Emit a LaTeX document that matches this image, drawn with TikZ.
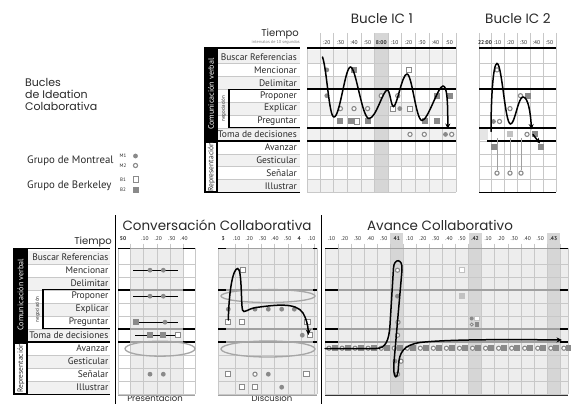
\documentclass[tikz,border=0pt]{standalone}
\usepackage{fontspec}
\setmainfont{PT Sans}
\newfontfamily\titlefont{Poppins}
\usetikzlibrary{arrows.meta}
\definecolor{mk}{HTML}{8A8A8A}
\definecolor{mkl}{HTML}{C2C2C2}
\definecolor{rowgray}{HTML}{F1F1F1}
\definecolor{gridc}{HTML}{C8C8C8}
\definecolor{hicol}{HTML}{D6D6D6}
\definecolor{selbg}{HTML}{EDEDED}
\definecolor{thkgray}{HTML}{A0A0A0}
\definecolor{txt}{HTML}{2A2A2A}
\definecolor{ellc}{HTML}{A6A6A6}
\newcommand\MkCirc[2]{\fill[mk] (#1,#2) circle (2.4pt);}
\newcommand\MkRing[2]{\draw[mk,line width=1.1pt,fill=white] (#1,#2) circle (2.1pt);}
\newcommand\MkOpSq[2]{\draw[mk,line width=0.9pt,fill=white,shift={(#1,#2)}] (-2.6,-2.6) rectangle (2.6,2.6);}
\newcommand\MkSq[2]{\fill[mk,shift={(#1,#2)}] (-3,-3) rectangle (3,3);}
\newcommand\MkSqL[2]{\fill[mkl,shift={(#1,#2)}] (-3,-3) rectangle (3,3);}
\newcommand\MkOpSqL[2]{\draw[mkl,line width=0.9pt,fill=white,shift={(#1,#2)}] (-2.6,-2.6) rectangle (2.6,2.6);}
\begin{document}
\begin{tikzpicture}[x=1pt,y=-1pt,
  lbl/.style={anchor=east,inner sep=0pt,font=\fontsize{9.5}{10}\selectfont,text=txt},
  tick/.style={inner sep=0pt,font=\fontsize{5.5}{5.5}\selectfont,text=txt},
  ttl/.style={inner sep=0pt,font=\titlefont\fontsize{13.5}{14}\selectfont,text=txt},
  thk/.style={line width=1.6pt},
  gridl/.style={draw=gridc,line width=0.4pt},
  curve/.style={line width=1.5pt,line cap=round,-{Stealth[length=5.5pt,width=5pt]}},
  ell/.style={draw=ellc,line width=1.3pt},
  rotw/.style={rotate=90,inner sep=0pt,text=white,font=\fontsize{8}{8}\selectfont},
  rotb/.style={rotate=90,inner sep=0pt,text=txt,font=\fontsize{7.5}{8}\selectfont},
  negs/.style={rotate=90,inner sep=0pt,text=txt,font=\fontsize{5}{5}\selectfont},
  leg/.style={anchor=base west,inner sep=0pt,font=\fontsize{10.8}{11}\selectfont,text=txt},
  legs/.style={inner sep=0pt,font=\fontsize{5}{5}\selectfont,text=txt},
]
\useasboundingbox (0,0) rectangle (571,404);
\fill[white] (0,0) rectangle (571,404);

% ================= LEGEND =================
\node[anchor=base west,inner sep=0,font=\titlefont\fontsize{11}{12}\selectfont,text=txt] (leg1) at (25,86.7) {Bucles};
\node[anchor=base west,inner sep=0,font=\titlefont\fontsize{11}{12}\selectfont,text=txt] (leg2) at (25,98.7) {de Ideation};
\node[anchor=base west,inner sep=0,font=\titlefont\fontsize{11}{12}\selectfont,text=txt] (leg3) at (25,110.7) {Colaborativa};
\node[leg] (mont) at (27,163) {Grupo de Montreal};
\node[leg] (berk) at (27,188.3) {Grupo de Berkeley};
\node[legs] (m1) at (123,156) {M1};
\node[legs] (m2) at (123,165.5) {M2};
\node[legs] (b1) at (123,180) {B1};
\node[legs] (b2) at (123,190) {B2};
\MkCirc{135.5}{156}
\MkRing{135.5}{165.5}
\MkOpSq{136}{179.5}
\MkSq{136}{189.5}

% ================= TOP: titles =================
\node[ttl] (ic1t) at (382,19) {Bucle IC 1};
\node[ttl] (ic2t) at (518,19) {Bucle IC 2};
\node[anchor=base east,inner sep=0,font=\titlefont\fontsize{10}{10}\selectfont,text=txt] (tiempo1) at (299,37) {Tiempo};
\node[anchor=east,inner sep=0,font=\fontsize{4.3}{4.3}\selectfont,text=gray] (interv) at (300,42) {intervalos de 10 segundos};

% ================= TOP label column =================
\foreach \i in {0,2,4,6,8,10} \fill[rowgray] (218,{50.5+12.9*\i}) rectangle (300,{63.4+12.9*\i});
\foreach \i in {1,...,10} \draw[gridl] (218,{50.5+12.9*\i}) -- (300,{50.5+12.9*\i});
\foreach \t [count=\i from 0] in {Buscar Referencias,Mencionar,Delimitar,Proponer,Explicar,Preguntar,Toma de decisiones,Avanzar,Gesticular,Señalar,Illustrar}
  \node[lbl] (tl\i) at (297,{56.95+12.9*\i}) {\t};
\fill[black] (204,47.5) rectangle (218,140.8);
\node[rotw] (cv1) at (211,94.2) {Comunicación verbal};
\fill[black] (204,140.8) rectangle (218,193.2);
\fill[white] (206.2,142.6) rectangle (216.2,191.4);
\node[rotb] (rep1) at (211.4,167) {Representación};
\draw[thk] (204,48) -- (300,48);
\draw[line width=1.2pt] (300,89.2) -- (229,89.2) -- (229,127.9) -- (300,127.9);
\node[negs] (neg1) at (223.5,108.6) {negociación};
\draw[thk] (218,140.8) -- (300,140.8);
\draw[line width=1.2pt] (204,192.8) -- (300,192.8);

% ================= IC1 chart =================
\foreach \i in {0,2,4,6,8,10} \fill[rowgray] (307,{50.5+12.9*\i}) rectangle (456,{63.4+12.9*\i});
\fill[hicol] (374.4,33) rectangle (388,192.4);
\foreach \i in {1,...,11} \draw[gridl] (307,{50.5+12.9*\i}) -- (456,{50.5+12.9*\i});
\foreach \j in {0,...,9} \draw[gridl] ({320+13.6*\j},33) -- ({320+13.6*\j},192.4);
\draw[gridl] (307,48) -- (307,192.4);
\draw[gridl] (456,33) -- (456,192.4);
\foreach \yy in {48,89.2,127.9,140.8} \draw[thk] (307,\yy) -- (456,\yy);
\foreach \t [count=\k from 0] in {:20,:30,:40,:50,\textbf{8:00},:10,:20,:30,:40,:50}
  \node[tick] (ta\k) at ({326.8+13.6*\k},42.5) {\t};
% IC1 markers
\MkCirc{326.8}{69.9} \MkSq{353.5}{69.9} \MkOpSq{409}{69.9}
\MkCirc{326.8}{95.7} \MkRing{381.2}{95.7} \MkRing{397.7}{95.7} \MkSq{436.7}{95.7} \MkSq{450}{95.7}
\MkRing{340.4}{108.6} \MkRing{354}{108.6} \MkRing{367.6}{108.6} \MkOpSq{393.3}{108.6} \MkCirc{399.8}{108.6} \MkOpSq{410}{108.6}
\MkSq{340.4}{121.5} \MkSq{350.7}{121.5} \MkOpSq{357.3}{121.5} \MkSq{368}{121.5} \MkSq{424.5}{121.5} \MkSq{436.7}{121.5}
\MkRing{410}{134.4} \MkRing{424.3}{134.4} \MkCirc{445.5}{134.4} \MkRing{451.7}{134.4}
\draw[curve] (322.5,57) .. controls (327,70) and (329,117) .. (334,117)
  .. controls (340,117) and (345,67) .. (350.5,67)
  .. controls (356,67) and (362,118.5) .. (369,118.5)
  .. controls (376,118.5) and (383,90) .. (387.3,90)
  .. controls (390,90) and (391,106.5) .. (393.5,106.5)
  .. controls (397,106.5) and (402,74) .. (407,74)
  .. controls (412,74) and (416,120.5) .. (422,120.5)
  .. controls (428,120.5) and (438,86) .. (443,86)
  .. controls (447,86) and (447.8,100) .. (447.8,129);

% ================= IC2 chart =================
\fill[black!10] (479,128.4) rectangle (488,140.3);
\foreach \i in {1,...,11} \draw[gridl] (479,{50.5+12.9*\i}) -- (556,{50.5+12.9*\i});
\foreach \xx in {479,491,504,517,530,543,556} \draw[gridl] (\xx,33) -- (\xx,192.4);
\foreach \yy in {48,89.2,127.9} \draw[thk] (479,\yy) -- (556,\yy);
\draw[thk] (487,140.8) -- (556,140.8);
\draw[thk] (479,192.4) -- (556,192.4);
\foreach \t/\xx [count=\k] in {\textbf{22:00}/485,:10/497.5,:20/510.5,:30/523.5,:40/536.5,:50/549.5}
  \node[tick] (tb\k) at (\xx,42.5) {\t};
\foreach \xx in {497,510,521} \draw[draw=gridc!80!black,line width=0.5pt] (\xx,138) -- (\xx,170);
\MkRing{497}{69.9}
\MkRing{510}{108.6}
\MkRing{520.5}{95.7} \MkSq{527.5}{95.7}
\MkCirc{493.5}{121.5} \MkRing{499.5}{121.5}
\MkSqL{510}{134.4} \MkRing{527}{134.4} \MkSq{535}{134.4}
\MkSq{493.5}{147.3} \MkSq{540.5}{147.3}
\MkRing{497}{173.1} \MkRing{510}{173.1} \MkRing{521}{173.1}
\draw[curve] (491,131.5) .. controls (491,100) and (493,63.5) .. (497,63.5)
  .. controls (502,63.5) and (505,124) .. (510.5,124)
  .. controls (515,124) and (518,97) .. (523,97)
  .. controls (528,97) and (530.5,112) .. (531.5,129.5);
\draw[curve] (533,134.5) -- (540,143.5);

% ================= BOTTOM: titles, dividers =================
\draw[line width=0.7pt] (115,215) -- (115,404);
\draw[line width=0.7pt] (321.7,215) -- (321.7,404);
\node[ttl] (cct) at (217,225) {Conversación Collaborativa};
\node[ttl] (act) at (440,225) {Avance Collaborativo};
\node[anchor=base east,inner sep=0,font=\titlefont\fontsize{10}{10}\selectfont,text=txt] (tiempo2) at (112,244) {Tiempo};
\node[anchor=base,inner sep=0,font=\titlefont\fontsize{8.5}{8.5}\selectfont,text=txt] (pres) at (155,401.3) {Presentación};
\node[anchor=base,inner sep=0,font=\titlefont\fontsize{8.5}{8.5}\selectfont,text=txt] (disc) at (272,401.3) {Discusión};

% ================= BOTTOM label column =================
\foreach \i in {0,2,4,6,8,10} \fill[rowgray] (28,{250.7+13*\i}) rectangle (110,{263.7+13*\i});
\foreach \i in {1,...,10} \draw[gridl] (28,{250.7+13*\i}) -- (110,{250.7+13*\i});
\foreach \t [count=\i from 0] in {Buscar Referencias,Mencionar,Delimitar,Proponer,Explicar,Preguntar,Toma de decisiones,Avanzar,Gesticular,Señalar,Illustrar}
  \node[lbl] (bl\i) at (108.5,{257.2+13*\i}) {\t};
\fill[black] (13,248) rectangle (28,341.7);
\node[rotw] (cv2) at (20.5,294.8) {Comunicación verbal};
\fill[black] (13,341.7) rectangle (28,394.6);
\fill[white] (15.2,343.5) rectangle (26.2,392.8);
\node[rotb] (rep2) at (20.9,368.2) {Representación};
\draw[thk] (13,248.3) -- (110,248.3);
\draw[line width=1.2pt] (110,289.7) -- (43,289.7) -- (43,328.7) -- (110,328.7);
\node[negs] (neg2) at (37.5,309.2) {negociación};
\draw[thk] (28,341.7) -- (110,341.7);
\draw[line width=1.2pt] (13,394.2) -- (110,394.2);

% ================= Chart 1 (Presentacion) =================
\fill[selbg] (130,248.3) rectangle (183.3,393.7);
\foreach \i in {1,...,11} \draw[gridl] (118,{250.7+13*\i}) -- (195,{250.7+13*\i});
\foreach \xx in {130,143.3,156.7,170,183.3} \draw[gridl] (\xx,243.5) -- (\xx,393.7);
\draw[gridl] (118,248) -- (118,393.7);
\draw[gridl] (195,248) -- (195,393.7);
\foreach \yy in {248.3,289.7,328.7,341.7} {
  \draw[thk,thkgray] (118,\yy) -- (195,\yy);
  \draw[thk] (118,\yy) -- (130,\yy);
  \draw[thk] (183.3,\yy) -- (195,\yy);}
\draw[line width=1pt,thkgray] (118,395.2) -- (195,395.2);
\foreach \t/\xx [count=\k] in {\textbf{50}/123,.10/145,.20/158.3,.30/171.7,.40/184}
  \node[tick] (tc\k) at (\xx,239) {\t};
\draw[line width=1.2pt] (133.3,270.2) -- (178.3,270.2);
\MkCirc{150}{270.2} \MkCirc{163.3}{270.2}
\draw[line width=1.2pt] (133.3,296.2) -- (178.3,296.2);
\MkCirc{150}{296.2} \MkCirc{163.3}{296.2}
\draw[line width=1.2pt] (133.3,322.2) -- (178.3,322.2);
\MkSq{136}{322.2} \MkCirc{165}{322.2}
\draw[line width=1.2pt] (135,335.2) -- (180,335.2);
\MkSq{150}{335.2} \MkSq{163.3}{335.2} \MkOpSq{178.3}{335.2}
\draw[ell] (160,348.7) ellipse [x radius=35pt,y radius=7.5pt];
\MkCirc{150}{374.2} \MkCirc{163.3}{374.2}

% ================= Chart 2 (Discusion) =================
\fill[selbg] (218,248.3) rectangle (317,393.7);
\foreach \i in {1,...,11} \draw[gridl] (218,{250.7+13*\i}) -- (317,{250.7+13*\i});
\foreach \j in {0,...,6} \draw[gridl] ({235+13.2*\j},243.5) -- ({235+13.2*\j},393.7);
\draw[gridl] (218,248) -- (218,393.7);
\draw[gridl] (317,248) -- (317,393.7);
\foreach \yy in {248.3,289.7,328.7,341.7} {
  \draw[thk,thkgray] (218,\yy) -- (317,\yy);
  \draw[thk] (218,\yy) -- (226,\yy);
  \draw[thk] (313,\yy) -- (317,\yy);}
\draw[line width=1pt,thkgray] (218,395.2) -- (317,395.2);
\foreach \t/\xx [count=\k] in {\textbf{3}/223.3,.10/236.7,.20/249.3,.30/262.7,.40/275,.50/287.7,\textbf{4}/299.3,.10/311.7}
  \node[tick] (td\k) at (\xx,239) {\t};
\MkOpSq{243.3}{270.2}
\draw[ell] (268,296) ellipse [x radius=47pt,y radius=6.5pt];
\MkCirc{228.3}{309.2} \MkCirc{255}{309.2} \MkCirc{268.3}{309.2} \MkCirc{281.7}{309.2} \MkCirc{294.3}{309.2}
\MkOpSq{228.3}{322.2} \MkOpSq{241.7}{322.2} \MkOpSq{307.5}{322.2}
\MkCirc{302.3}{335.2} \MkOpSq{310}{335.2}
\draw[ell] (268,349) ellipse [x radius=47pt,y radius=8pt];
\MkOpSq{228.3}{374.2} \MkRing{255}{374.2} \MkCirc{268.3}{374.2} \MkOpSq{306.5}{374.2}
\MkOpSq{241.7}{387.2} \MkOpSq{255}{387.2} \MkCirc{281.7}{387.2}
\draw[curve] (228.3,320) .. controls (229,290) and (233,268.5) .. (237.7,268.5)
  .. controls (242,268.5) and (241,305) .. (242.5,310)
  .. controls (244,314) and (247,309) .. (256,307.5)
  .. controls (275,305) and (296,302) .. (303,313)
  .. controls (306,318) and (308,325) .. (308.5,335);

% ================= Chart 3 (Avance) =================
\fill[selbg] (325,248.3) rectangle (568,393.7);
\foreach \k in {5,11,17} \fill[hicol] ({325+13.05*\k},233) rectangle ({325+13.05*(\k+1)},393.7);
\foreach \i in {1,...,11} \draw[gridl] (325,{250.7+13*\i}) -- (568,{250.7+13*\i});
\foreach \j in {1,...,18} \draw[gridl] ({325+13.05*\j},243.5) -- ({325+13.05*\j},393.7);
\draw[gridl] (325,248) -- (325,393.7);
\draw[gridl] (568,248) -- (568,393.7);
\foreach \yy in {248.3,289.7,328.7,341.7} {
  \draw[thk,thkgray] (325,\yy) -- (568,\yy);
  \draw[thk] (325,\yy) -- (338,\yy);
  \draw[thk] (560,\yy) -- (568,\yy);}
\draw[line width=1pt,black!80] (325,395.2) -- (568,395.2);
\foreach \t [count=\k from 0] in {.10,.20,.30,.40,.50,\textbf{41},.10,.20,.30,.40,.50,\textbf{.42},.10,.20,.30,.40,.50,\textbf{.43}}
  \node[tick] (te\k) at ({331.5+13.05*\k},239) {\t};
\foreach \k in {0,...,18} {
  \MkRing{{325+13.05*\k+4}}{348.2}
  \MkSq{{325+13.05*\k+9.5}}{348.2}}
\MkRing{397.5}{270.2}
\MkCirc{397.5}{296.2}
\MkRing{398}{322.2}
\MkRing{397.5}{335.2}
\MkCirc{395}{361.2} \MkRing{401}{361.2}
\MkRing{397.5}{374.2}
\MkOpSqL{461.7}{270.2}
\MkSqL{461.7}{296.2}
\fill[mk] (471.7,318.5) circle (2pt);
\draw[mkl,line width=0.8pt,fill=white] (474.6,316) rectangle (479,320.6);
\draw[mk,line width=0.8pt,fill=white] (471.7,324.5) circle (1.5pt);
\fill[mk] (474.6,322.2) rectangle (479,326.8);
\draw[curve] (325,348.5) -- (376,348.5)
  .. controls (386,348.5) and (389,340) .. (390,325)
  -- (393.5,268)
  .. controls (394,258) and (403,258) .. (402,270)
  -- (394,362)
  .. controls (392.5,380) and (398,382) .. (398.5,366)
  .. controls (399,352) and (404,345) .. (420,342.5)
  .. controls (450,339) and (520,339.5) .. (562,340);
\end{tikzpicture}
\end{document}
